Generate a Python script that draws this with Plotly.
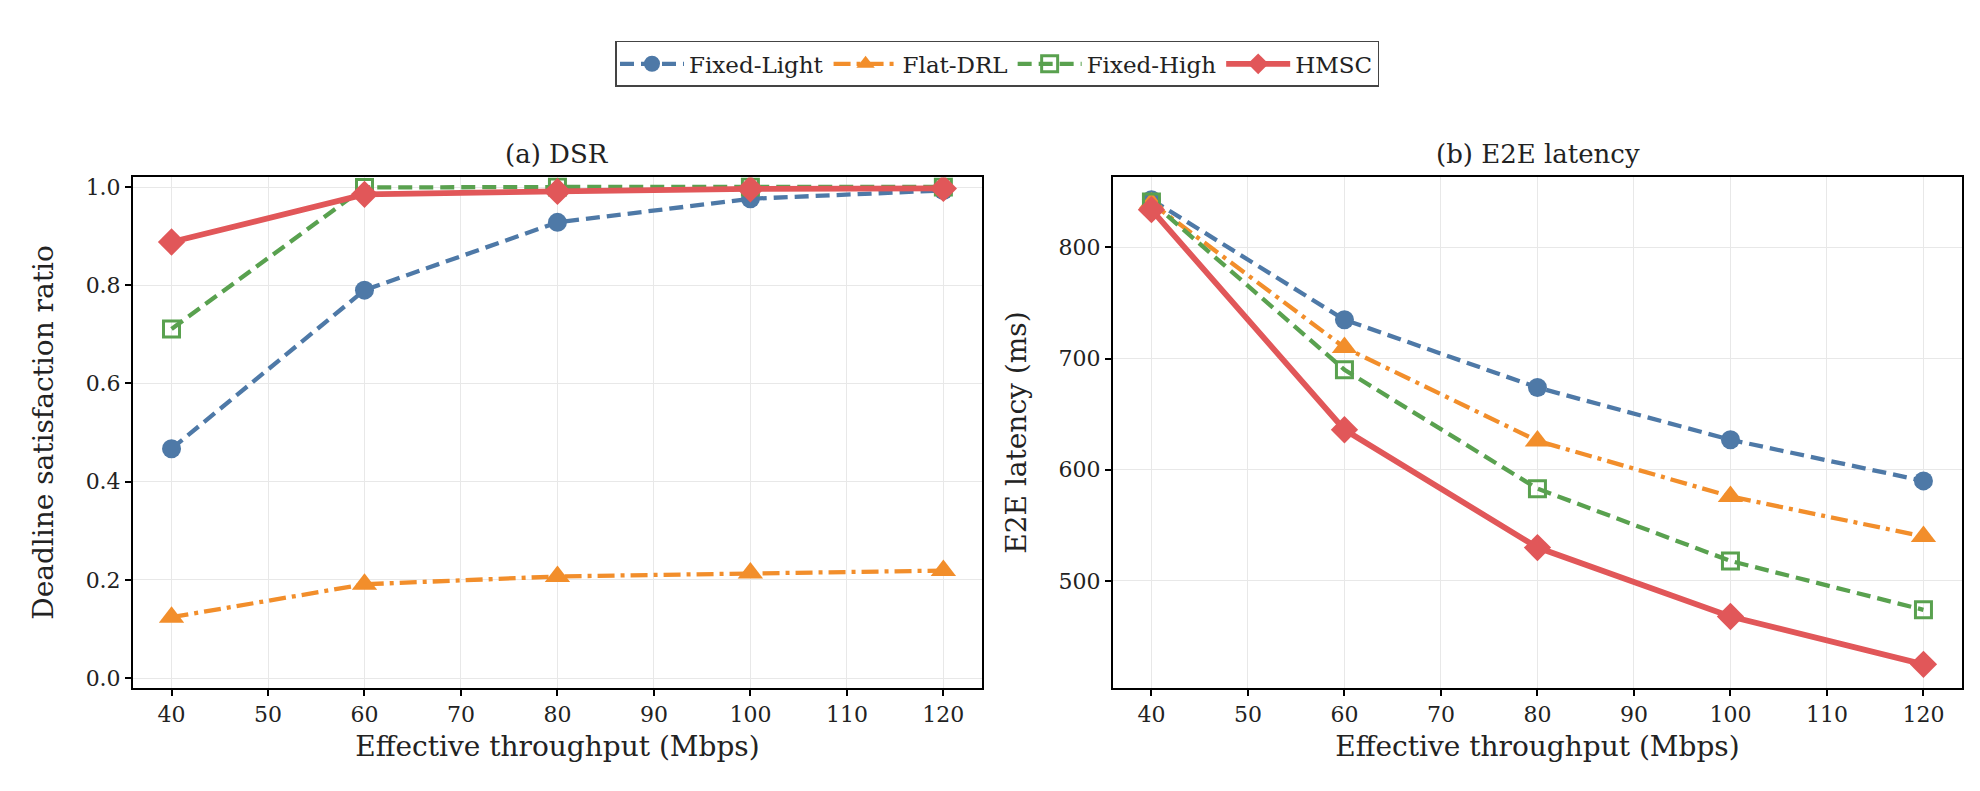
import plotly.graph_objects as go

# throughput values (Mbps)
throughput = [40, 60, 80, 100, 120]

# deadline satisfaction ratio
dsr_fixed_light = [0.467, 0.790, 0.928, 0.976, 0.993]
dsr_flat_drl = [0.124, 0.191, 0.207, 0.214, 0.219]
dsr_fixed_high = [0.711, 0.999, 1.000, 1.000, 1.000]
dsr_hmsc = [0.888, 0.985, 0.991, 0.996, 0.997]

# end-to-end latency (ms)
lat_fixed_light = [843, 735, 674, 627, 590]
lat_flat_drl = [840, 710, 626, 576, 540]
lat_fixed_high = [841, 690, 583, 518, 474]
lat_hmsc = [834, 636, 530, 468, 425]

FONT = "DejaVu Serif"

series = [
    ("Fixed-Light", dsr_fixed_light, lat_fixed_light, "#4E79A7", "14px,7px", "circle", 19, 4.3),
    ("Flat-DRL", dsr_flat_drl, lat_flat_drl, "#F28E2B", "17px,6px,4px,6px", "triangle-up", 22, 4.3),
    ("Fixed-High", dsr_fixed_high, lat_fixed_high, "#59A14F", "14px,7px", "square-open", 16, 4.3),
    ("HMSC", dsr_hmsc, lat_hmsc, "#E15759", "solid", "diamond", 21, 5.8),
]

fig = go.Figure()
for name, dsr, lat, color, dash, symbol, msize, lw in series:
    marker = dict(symbol=symbol, size=msize, color=color)
    if symbol == "square-open":
        marker["line"] = dict(color=color, width=3)
    fig.add_trace(go.Scatter(x=throughput, y=dsr, mode="lines+markers", name=name,
                             line=dict(color=color, dash=dash, width=lw), marker=marker,
                             xaxis="x", yaxis="y", legendgroup=name))
    fig.add_trace(go.Scatter(x=throughput, y=lat, mode="lines+markers", name=name,
                             line=dict(color=color, dash=dash, width=lw), marker=marker,
                             xaxis="x2", yaxis="y2", legendgroup=name, showlegend=False))

axis_style = dict(showline=True, linecolor="black", linewidth=1.8, mirror=True,
                  ticks="outside", ticklen=6, tickwidth=1.5, tickcolor="black",
                  showgrid=True, gridcolor="#e8e8e8", gridwidth=1.2, zeroline=False,
                  tickfont=dict(family=FONT, size=22, color="#222"))

title_font = dict(family=FONT, size=28, color="#222")

xa = dict(axis_style, range=[36, 124], tickvals=[40, 50, 60, 70, 80, 90, 100, 110, 120],
          title=dict(text="Effective throughput (Mbps)", font=title_font, standoff=10))

fig.update_layout(
    width=1980, height=791,
    margin=dict(l=0, r=0, t=0, b=0),
    paper_bgcolor="white", plot_bgcolor="white",
    font=dict(family=FONT, color="#222"),
    xaxis=dict(xa, domain=[0.0631, 0.4919], anchor="y"),
    xaxis2=dict(xa, domain=[0.5580, 0.9869], anchor="y2"),
    yaxis=dict(axis_style, domain=[0.138, 0.788], anchor="x", range=[-0.0195, 1.0195],
               tickvals=[0.0, 0.2, 0.4, 0.6, 0.8, 1.0], tickformat=".1f",
               title=dict(text="Deadline satisfaction ratio", font=title_font, standoff=24)),
    yaxis2=dict(axis_style, domain=[0.138, 0.788], anchor="x2", range=[404, 863],
                tickvals=[500, 600, 700, 800],
                title=dict(text="E2E latency (ms)", font=title_font, standoff=24)),
    legend=dict(orientation="h", x=0.4995, y=0.962, xanchor="center", yanchor="top",
                bordercolor="#444", borderwidth=1.5, bgcolor="white",
                font=dict(family=FONT, size=23, color="#222"), itemwidth=64,
                tracegroupgap=0),
    annotations=[
        dict(text="(a) DSR", x=0.2775, y=0.818, xref="paper", yref="paper",
             xanchor="center", yanchor="middle", showarrow=False,
             font=dict(family=FONT, size=26, color="#222")),
        dict(text="(b) E2E latency", x=0.7725, y=0.818, xref="paper", yref="paper",
             xanchor="center", yanchor="middle", showarrow=False,
             font=dict(family=FONT, size=26, color="#222")),
    ],
)

fig.write_html("out.html")
